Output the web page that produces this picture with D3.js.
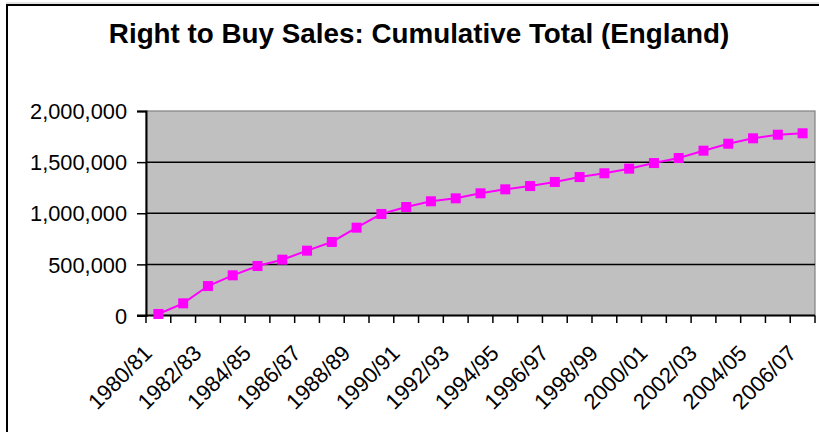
<!DOCTYPE html>
<html>
<head>
<meta charset="utf-8">
<script src="https://cdn.jsdelivr.net/npm/d3@7"></script>
<style>
  html, body { margin: 0; padding: 0; background: #fff; }
  svg { display: block; }
  text { font-family: "Liberation Sans", Arial, sans-serif; fill: #000; }
</style>
</head>
<body>
<svg id="chart" width="819" height="432"></svg>
<script>
const chartTitle = "Right to Buy Sales: Cumulative Total (England)";
const categories = [
  "1980/81","1981/82","1982/83","1983/84","1984/85","1985/86","1986/87",
  "1987/88","1988/89","1989/90","1990/91","1991/92","1992/93","1993/94",
  "1994/95","1995/96","1996/97","1997/98","1998/99","1999/00","2000/01",
  "2001/02","2002/03","2003/04","2004/05","2005/06","2006/07"
];
const cumulativeSales = [
  15000, 119000, 288000, 393000, 484000, 546000, 634000,
  719000, 859000, 993000, 1061000, 1117000, 1146000, 1195000,
  1234000, 1266000, 1306000, 1354000, 1391000, 1436000, 1491000,
  1540000, 1612000, 1680000, 1733000, 1768000, 1782000
];
const yTicks = [0, 500000, 1000000, 1500000, 2000000];

const svg = d3.select("#chart");
const W = 819, H = 432;
const plot = { left: 146, right: 815, top: 111, bottom: 315.5 };

// outer chart border
svg.append("line").attr("x1", 6).attr("x2", W).attr("y1", 3).attr("y2", 3)
  .attr("stroke", "#c8c8c8").attr("stroke-width", 1);
svg.append("rect").attr("x", 7).attr("y", 5).attr("width", W + 20).attr("height", H + 20)
  .attr("fill", "none").attr("stroke", "#000").attr("stroke-width", 2);

// title
svg.append("text")
  .attr("x", 419).attr("y", 43)
  .attr("text-anchor", "middle")
  .attr("font-weight", "bold")
  .attr("font-size", 27.8)
  .text(chartTitle);

const x = d3.scaleBand().domain(categories).range([plot.left, plot.right]).paddingInner(0).paddingOuter(0);
const y = d3.scaleLinear().domain([0, 2000000]).range([plot.bottom, plot.top]);

// plot area background
svg.append("rect")
  .attr("x", plot.left).attr("y", plot.top)
  .attr("width", plot.right - plot.left).attr("height", plot.bottom - plot.top)
  .attr("fill", "#c0c0c0").attr("stroke", "#808080").attr("stroke-width", 1.2);

// gridlines
svg.append("g").selectAll("line").data(yTicks.filter(d => d > 0 && d < 2000000)).join("line")
  .attr("x1", plot.left).attr("x2", plot.right)
  .attr("y1", d => y(d)).attr("y2", d => y(d))
  .attr("stroke", "#000").attr("stroke-width", 1.5);

// y axis
const fmt = d3.format(",");
const yAxis = d3.axisLeft(y).tickValues(yTicks).tickSize(9).tickPadding(10).tickFormat(fmt);
const gy = svg.append("g").attr("transform", `translate(${plot.left},0)`).call(yAxis);
gy.select(".domain").attr("stroke", "#000").attr("stroke-width", 2);
gy.selectAll(".tick line").attr("stroke", "#000").attr("stroke-width", 1.5);
gy.selectAll(".tick text")
  .attr("dy", "0.35em")
  .attr("font-size", 21.8)
  .attr("font-family", "Liberation Sans, Arial, sans-serif")
  .attr("fill", "#000");

// x axis ticks at category boundaries
const boundaries = categories.map(c => x(c)).concat([plot.right]);
svg.append("g").selectAll("line").data(boundaries).join("line")
  .attr("x1", d => d).attr("x2", d => d)
  .attr("y1", plot.bottom).attr("y2", plot.bottom + 7.5)
  .attr("stroke", "#000").attr("stroke-width", 1.5);
svg.append("line")
  .attr("x1", plot.left - 9).attr("x2", plot.right)
  .attr("y1", plot.bottom).attr("y2", plot.bottom)
  .attr("stroke", "#000").attr("stroke-width", 2);

// x labels (every other)
svg.append("g").selectAll("text")
  .data(categories.filter((c, i) => i % 2 === 0)).join("text")
  .attr("transform", d => `translate(${x(d) + x.bandwidth() / 2 - 5},${plot.bottom + 39}) rotate(-45)`)
  .attr("text-anchor", "end")
  .attr("font-size", 22)
  .text(d => d);

// series line
const line = d3.line()
  .x((d, i) => x(categories[i]) + x.bandwidth() / 2)
  .y(d => y(d));
svg.append("path").datum(cumulativeSales)
  .attr("d", line).attr("fill", "none")
  .attr("stroke", "#ff00ff").attr("stroke-width", 2);

// markers
const ms = 10;
svg.append("g").selectAll("rect").data(cumulativeSales).join("rect")
  .attr("x", (d, i) => x(categories[i]) + x.bandwidth() / 2 - ms / 2)
  .attr("y", d => y(d) - ms / 2)
  .attr("width", ms).attr("height", ms)
  .attr("fill", "#ff00ff");
</script>
</body>
</html>
